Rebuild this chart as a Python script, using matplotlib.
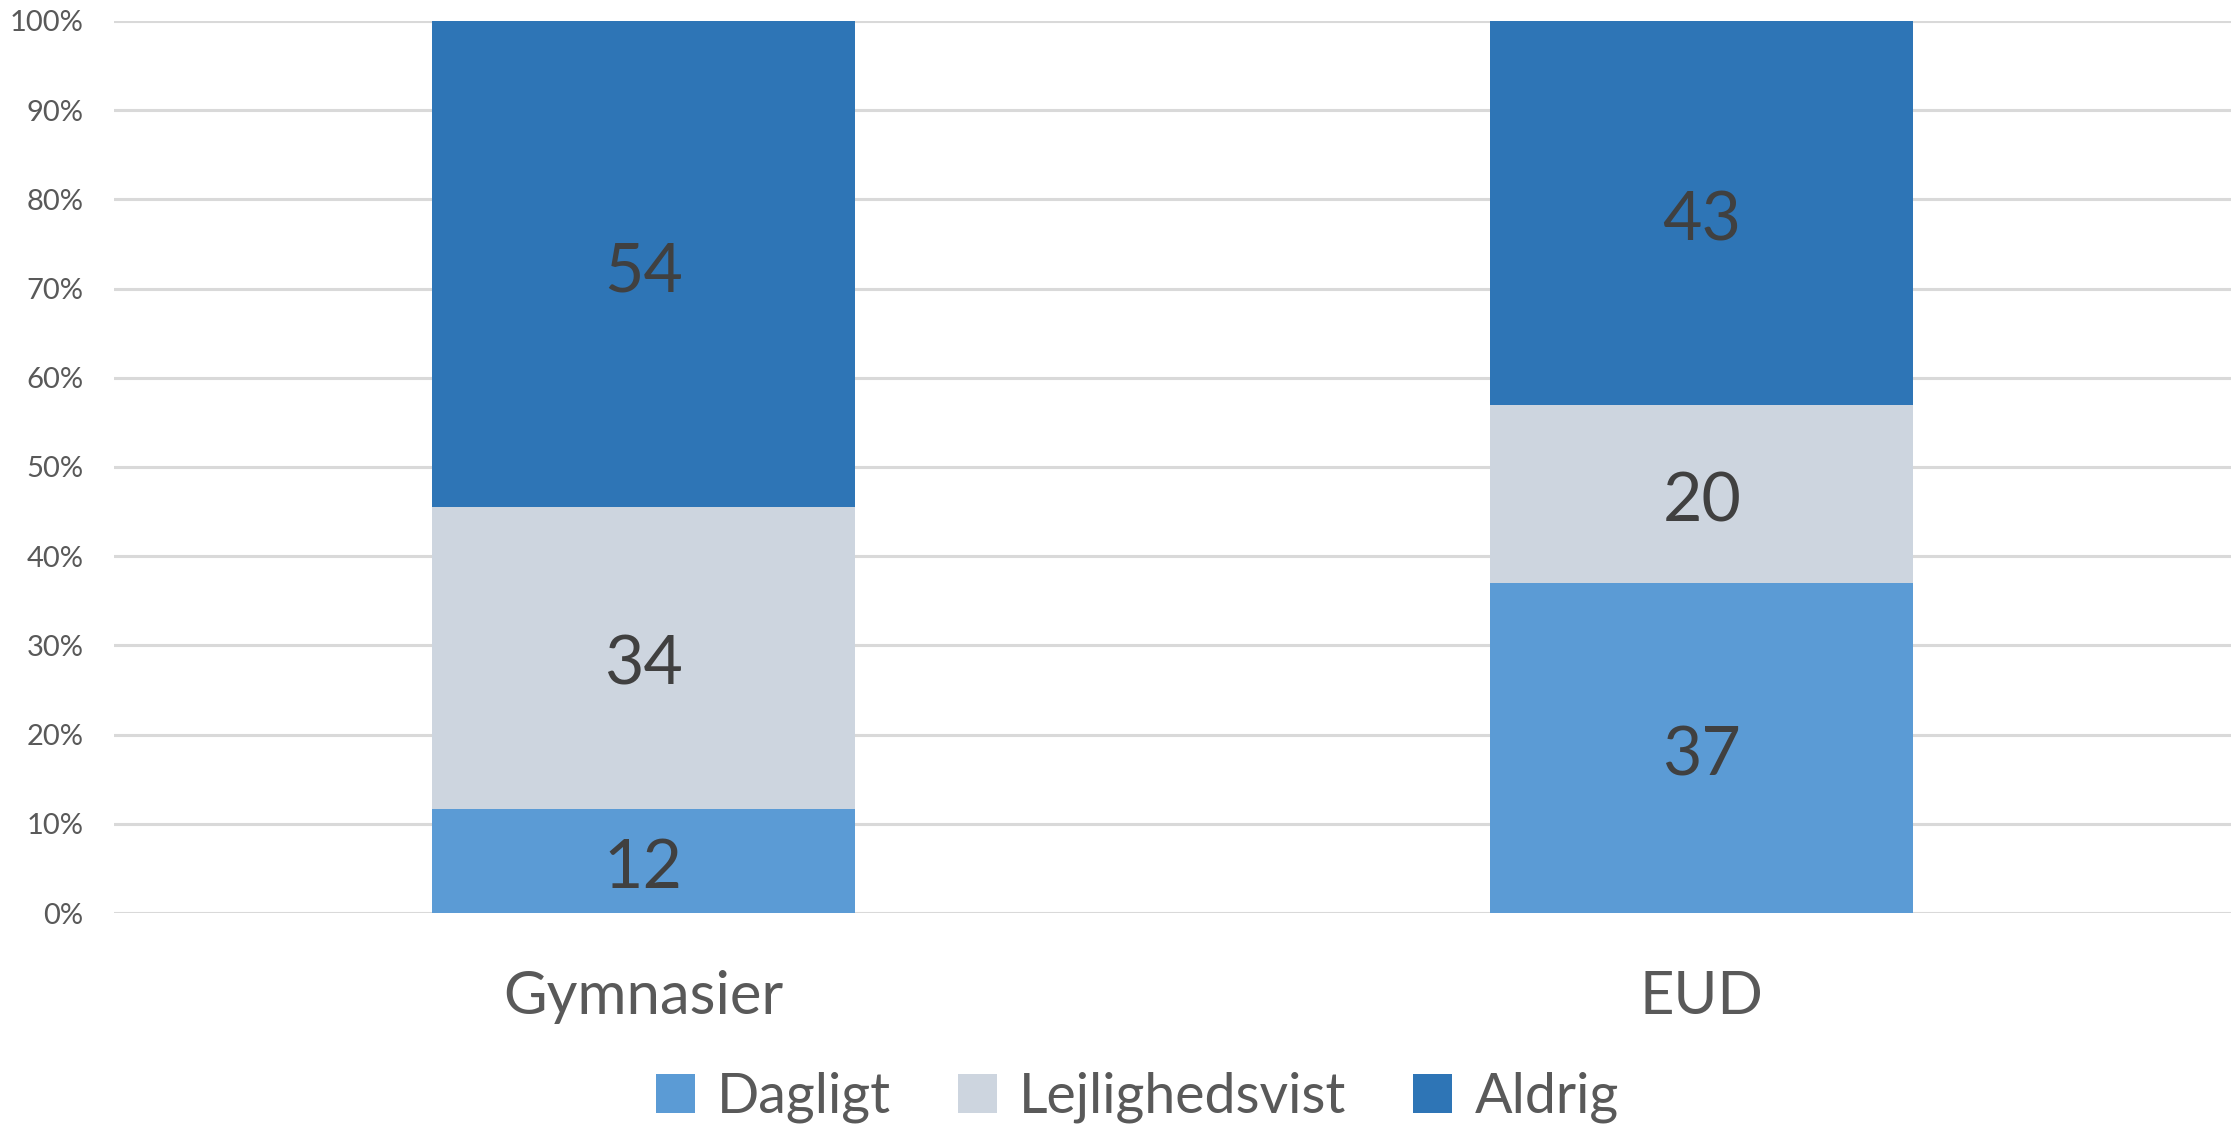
import matplotlib.pyplot as plt
import numpy as np
from matplotlib.ticker import PercentFormatter

plt.rcParams['font.family'] = ['Lato', 'DejaVu Sans']

categories = ["Gymnasier", "EUD"]
series_names = ["Dagligt", "Lejlighedsvist", "Aldrig"]
dagligt = [11.7, 37]
lejlighedsvist = [33.8, 20]
aldrig = [54.4, 43]
colors = ["#5B9BD5", "#CDD5DF", "#2E75B6"]


def main():
    values = [dagligt, lejlighedsvist, aldrig]
    totals = np.sum(values, axis=0)

    fig = plt.figure(figsize=(22.39, 11.28), dpi=100)
    ax = fig.add_axes([0.0509, 0.1906, 0.9455, 0.7908])

    x = np.arange(len(categories))
    bottom = np.zeros(len(categories))
    for name, vals, col in zip(series_names, values, colors):
        share = np.array(vals) / totals * 100
        bars = ax.bar(x, share, 0.4, bottom=bottom, color=col, label=name, zorder=3)
        texts = ax.bar_label(bars, labels=["%d" % round(v) for v in vals], label_type="center",
                             fontsize=49, color="#404040")
        # Excel puts the digits a bit lower than matplotlib does
        for t in texts:
            t.xyann = (0, -6)
        bottom += share

    ax.set_xlim(-0.5, 1.5)
    ax.set_ylim(0, 100)
    ax.set_yticks(np.arange(0, 101, 10))
    ax.yaxis.set_major_formatter(PercentFormatter(decimals=0))
    ax.set_xticks(x)
    ax.set_xticklabels(categories)
    ax.tick_params(axis="x", length=0, pad=41, labelsize=43, labelcolor="#595959")
    ax.tick_params(axis="y", length=0, pad=22, labelsize=21, labelcolor="#595959")
    ax.grid(axis="y", color="#D9D9D9", linewidth=2.2, zorder=0)
    for sp in ax.spines.values():
        sp.set_visible(False)

    fig.legend(loc="center", bbox_to_anchor=(0.508, 0.027), ncol=3, frameon=False,
               fontsize=40, handlelength=0.7, handleheight=0.7,
               handletextpad=0.4, columnspacing=1.2, labelcolor="#595959")

    fig.savefig("out.png", dpi=100)


if __name__ == "__main__":
    main()
